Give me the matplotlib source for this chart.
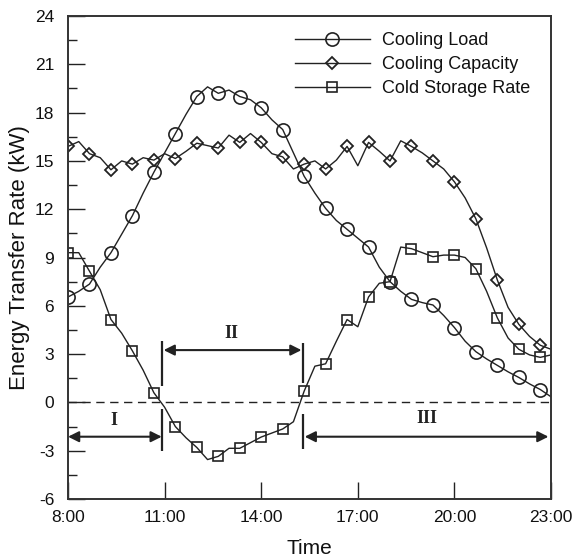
import numpy as np
import matplotlib
matplotlib.use('Agg')
import matplotlib.pyplot as plt
from matplotlib.ticker import MultipleLocator

# time in hours, 20-minute steps from 8:00 to 23:00
hours = np.arange(46) / 3.0 + 8.0

cooling_load = [
    6.55, 6.9, 7.35, 8.4, 9.3, 10.45, 11.6, 13.0, 14.3, 15.5,
    16.7, 17.9, 19.0, 19.6, 19.2, 19.4, 19.0, 18.8, 18.3, 17.55,
    16.95, 15.5, 14.05, 13.0, 12.05, 11.3, 10.75, 10.2, 9.65, 8.4,
    7.5, 6.9, 6.4, 6.2, 6.05, 5.4, 4.65, 3.8, 3.15, 2.7,
    2.3, 1.9, 1.55, 1.15, 0.8, 0.35,
]
cooling_capacity = [
    15.9, 16.2, 15.45, 15.2, 14.45, 15.0, 14.8, 15.2, 15.05, 15.45,
    15.15, 15.6, 16.1, 15.95, 15.8, 16.6, 16.15, 16.7, 16.15, 15.45,
    15.25, 14.5, 14.8, 15.0, 14.5, 15.05, 15.9, 14.7, 16.15, 15.6,
    15.0, 16.25, 15.9, 15.5, 15.0, 14.5, 13.7, 12.7, 11.4, 9.6,
    7.6, 5.9, 4.85, 4.1, 3.55, 3.3,
]
cold_storage = [
    9.3, 9.3, 8.15, 7.0, 5.15, 4.3, 3.2, 2.0, 0.6, -0.3,
    -1.5, -2.2, -2.8, -3.55, -3.35, -2.85, -2.85, -2.5, -2.15, -1.9,
    -1.65, -1.2, 0.7, 2.25, 2.4, 3.8, 5.15, 4.7, 6.55, 7.4,
    7.5, 9.65, 9.55, 9.3, 9.05, 9.15, 9.15, 9.0, 8.3, 6.9,
    5.25, 4.0, 3.3, 2.95, 2.8, 2.95,
]

xticks = [8, 11, 14, 17, 20, 23]
xtick_labels = ['8:00', '11:00', '14:00', '17:00', '20:00', '23:00']

# stage boundaries (hours) and labels
stage_edges = [8.0, 10.91, 15.31, 22.92]
stage_labels = ['I', 'II', 'III']

plt.rcParams['font.family'] = ['Liberation Sans', 'DejaVu Sans']
plt.rcParams['axes.unicode_minus'] = False

fig = plt.figure(figsize=(5.75, 5.6), dpi=100)
ax = fig.add_axes([0.1183, 0.1089, 0.84, 0.8625])

ink = '#222222'
ax.plot(hours, cooling_load, color=ink, lw=1.0, marker='o', ms=9.5, mfc='none',
        mec=ink, mew=1.2, markevery=2, label='Cooling Load')
ax.plot(hours, cooling_capacity, color=ink, lw=1.0, marker='D', ms=6.3, mfc='none',
        mec=ink, mew=1.3, markevery=2, label='Cooling Capacity')
ax.plot(hours, cold_storage, color=ink, lw=1.0, marker='s', ms=7.8, mfc='none',
        mec=ink, mew=1.2, markevery=2, label='Cold Storage Rate')

ax.axhline(0, color=ink, lw=1.0, ls=(0, (6, 4)))

# stage boundary markers
ax.vlines([stage_edges[1]], 1.0, 3.8, color=ink, lw=1.6)
ax.vlines([stage_edges[1]], -3.0, -0.4, color=ink, lw=1.6)
ax.vlines([stage_edges[2]], 1.2, 3.7, color=ink, lw=1.6)
ax.vlines([stage_edges[2]], -2.9, -0.7, color=ink, lw=1.6)

arrow = dict(arrowstyle='<|-|>', color=ink, lw=1.5, mutation_scale=16,
             shrinkA=0, shrinkB=0)
ax.annotate('', xy=(stage_edges[0], -2.13), xytext=(stage_edges[1], -2.13),
            arrowprops=arrow)
ax.annotate('', xy=(stage_edges[1] + 0.06, 3.25), xytext=(stage_edges[2] - 0.06, 3.25),
            arrowprops=arrow)
ax.annotate('', xy=(stage_edges[2] + 0.04, -2.13), xytext=(stage_edges[3], -2.13),
            arrowprops=arrow)

serif = ['Liberation Serif', 'DejaVu Serif']
ax.text(9.41, -1.1, stage_labels[0], ha='center', va='center', fontsize=13,
        fontweight='bold', family=serif, color=ink)
ax.text(13.08, 4.3, stage_labels[1], ha='center', va='center', fontsize=13,
        fontweight='bold', family=serif, color=ink)
ax.text(19.14, -1.0, stage_labels[2], ha='center', va='center', fontsize=13,
        fontweight='bold', family=serif, color=ink)

ax.set_xlim(8, 23)
ax.set_ylim(-6, 24)
ax.set_xticks(xticks)
ax.set_xticklabels(xtick_labels)
ax.yaxis.set_major_locator(MultipleLocator(3))
ax.yaxis.set_minor_locator(MultipleLocator(1.5))
ax.tick_params(axis='both', which='major', direction='in', length=12, width=1.0,
               color=ink, labelsize=12.5, labelcolor='#111111')
ax.tick_params(axis='y', which='major', pad=10)
ax.tick_params(axis='x', which='major', pad=8)
ax.tick_params(axis='y', which='minor', direction='in', length=6.5, width=1.0, color=ink)
for side in ['left', 'bottom', 'top', 'right']:
    ax.spines[side].set_color('#333333')
    ax.spines[side].set_linewidth(1.4)

ax.set_xlabel('Time', fontsize=15, labelpad=10, color='#111111')
ax.set_ylabel('Energy Transfer Rate (kW)', fontsize=16, labelpad=3, color='#111111')

leg = ax.legend(loc='upper left', bbox_to_anchor=(0.47, 0.966), frameon=False,
                fontsize=13, handlelength=4.15, handletextpad=0.66, labelspacing=0.38,
                borderpad=0, borderaxespad=0)
for t in leg.get_texts():
    t.set_color('#111111')

fig.savefig('out.png', dpi=100)
